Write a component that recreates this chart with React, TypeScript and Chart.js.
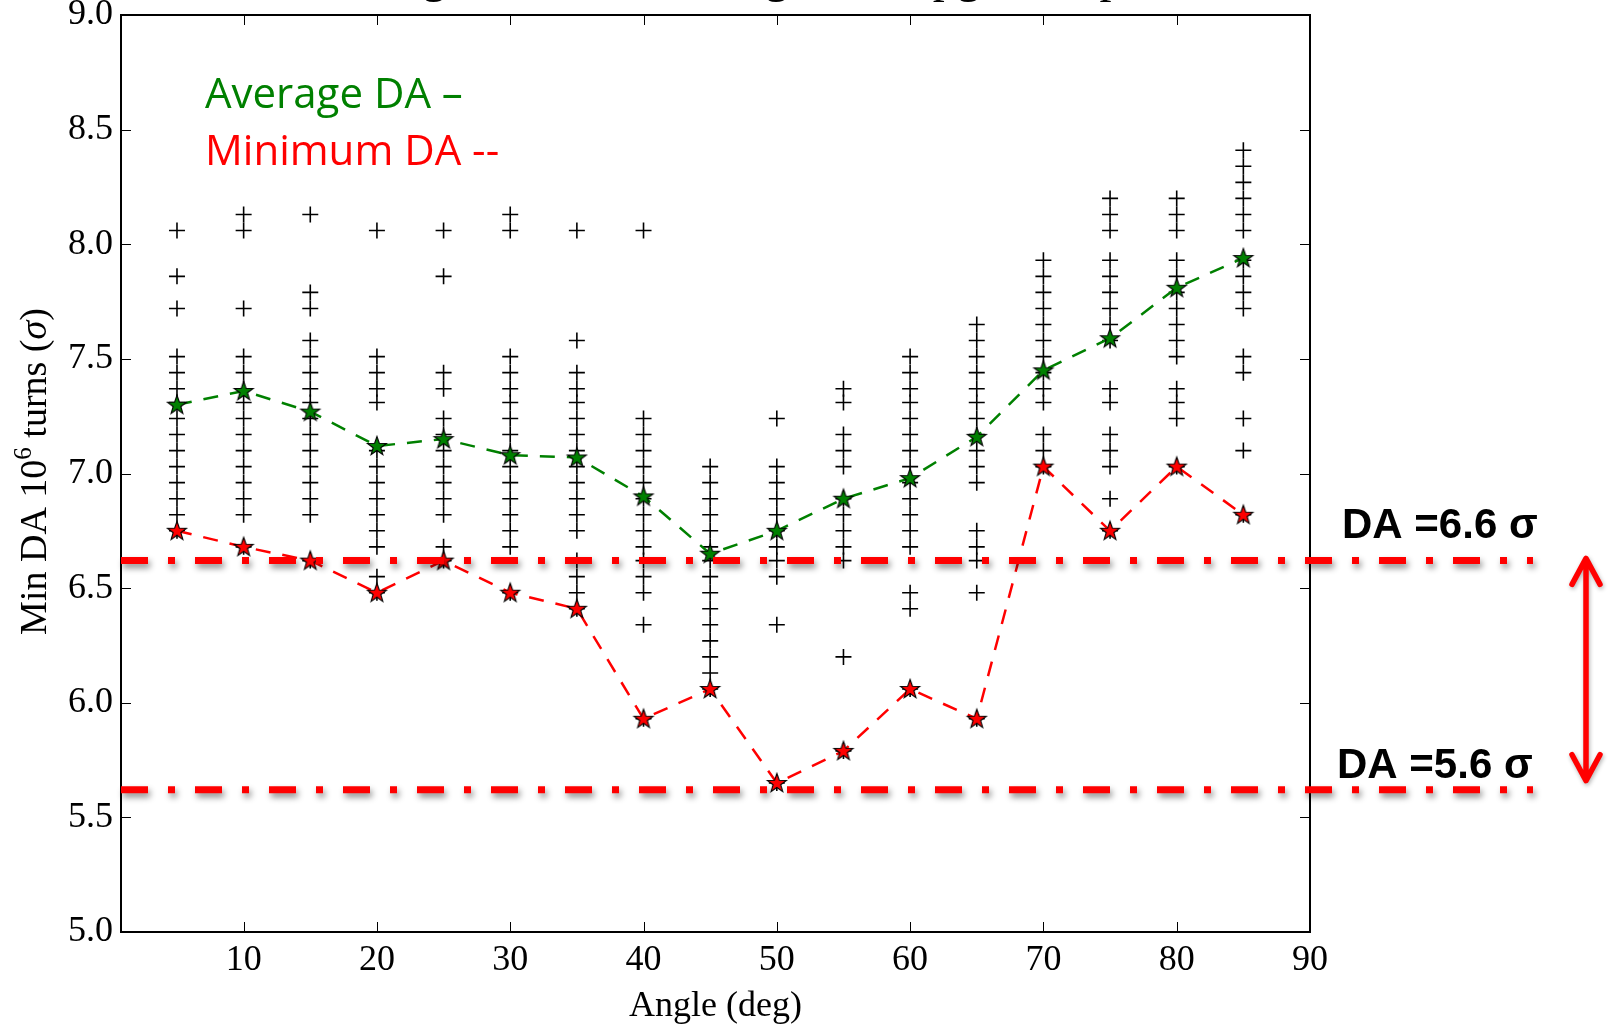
import React, { useEffect, useRef } from "react";
import { Chart, registerables } from "chart.js";

Chart.register(...registerables);

// ---------- data ----------
const angles = [5, 10, 15, 20, 25, 30, 35, 40, 45, 50, 55, 60, 65, 70, 75, 80, 85];
const averageDA = [7.3, 7.36, 7.27, 7.12, 7.15, 7.08, 7.07, 6.9, 6.65, 6.75, 6.89, 6.98, 7.16, 7.45, 7.59, 7.81, 7.94];
const minimumDA = [6.75, 6.68, 6.62, 6.48, 6.62, 6.48, 6.41, 5.93, 6.06, 5.65, 5.79, 6.06, 5.93, 7.03, 6.75, 7.03, 6.82];

const seeds05 = [8.06, 7.86, 7.72, 7.51, 7.44, 7.37, 7.31, 7.24, 7.17, 7.1, 7.03, 6.96, 6.89, 6.82, 6.75];
const seeds10 = [8.13, 8.06, 7.72, 7.51, 7.44, 7.37, 7.31, 7.24, 7.17, 7.1, 7.03, 6.96, 6.89, 6.82, 6.68];
const seeds15 = [8.13, 7.79, 7.72, 7.58, 7.51, 7.44, 7.37, 7.31, 7.24, 7.17, 7.1, 7.03, 6.96, 6.89, 6.82, 6.62];
const seeds20 = [8.06, 7.51, 7.44, 7.37, 7.31, 7.1, 7.03, 6.96, 6.89, 6.82, 6.75, 6.68, 6.55, 6.48];
const seeds25 = [8.06, 7.86, 7.44, 7.37, 7.24, 7.17, 7.1, 7.03, 6.96, 6.89, 6.82, 6.68, 6.62];
const seeds30 = [8.13, 8.06, 7.51, 7.44, 7.37, 7.31, 7.24, 7.17, 7.1, 7.03, 6.96, 6.89, 6.82, 6.75, 6.68, 6.48];
const seeds35 = [8.06, 7.58, 7.44, 7.37, 7.31, 7.24, 7.17, 7.1, 7.03, 6.96, 6.89, 6.82, 6.75, 6.62, 6.55, 6.48, 6.41];
const seeds40 = [8.06, 7.24, 7.17, 7.1, 7.03, 6.96, 6.89, 6.82, 6.75, 6.68, 6.62, 6.55, 6.48, 6.34, 5.93];
const seeds45 = [7.03, 6.96, 6.89, 6.82, 6.75, 6.68, 6.62, 6.55, 6.48, 6.41, 6.34, 6.27, 6.2, 6.13, 6.06];
const seeds50 = [7.24, 7.03, 6.96, 6.89, 6.82, 6.75, 6.68, 6.62, 6.55, 6.34, 5.65];
const seeds55 = [7.37, 7.31, 7.17, 7.1, 7.03, 6.89, 6.82, 6.75, 6.68, 6.62, 6.2, 5.79];
const seeds60 = [7.51, 7.44, 7.37, 7.31, 7.24, 7.17, 7.1, 7.03, 6.96, 6.89, 6.82, 6.75, 6.68, 6.48, 6.41, 6.06];
const seeds65 = [7.65, 7.58, 7.51, 7.44, 7.37, 7.31, 7.24, 7.17, 7.1, 7.03, 6.96, 6.75, 6.68, 6.62, 6.48, 5.93];
const seeds70 = [7.93, 7.86, 7.79, 7.72, 7.65, 7.58, 7.51, 7.44, 7.37, 7.31, 7.17, 7.1, 7.03];
const seeds75 = [8.2, 8.13, 8.06, 7.93, 7.86, 7.79, 7.72, 7.65, 7.58, 7.37, 7.31, 7.17, 7.1, 7.03, 6.89, 6.75];
const seeds80 = [8.2, 8.13, 8.06, 7.93, 7.86, 7.79, 7.72, 7.65, 7.58, 7.51, 7.37, 7.31, 7.24, 7.03];
const seeds85 = [8.41, 8.34, 8.27, 8.2, 8.13, 8.06, 7.93, 7.86, 7.79, 7.72, 7.51, 7.44, 7.24, 7.1, 6.82];
const seedsByAngle = [seeds05, seeds10, seeds15, seeds20, seeds25, seeds30, seeds35, seeds40, seeds45,
  seeds50, seeds55, seeds60, seeds65, seeds70, seeds75, seeds80, seeds85];

const thresholdDA = [6.62, 5.62];
const thresholdLabels = ["DA =6.6 σ", "DA =5.6 σ"];
const arrowDA = [6.63, 5.66];

const xTicks = [10, 20, 30, 40, 50, 60, 70, 80, 90];
const yTicks = [5.0, 5.5, 6.0, 6.5, 7.0, 7.5, 8.0, 8.5, 9.0];
const xRange = [0.8, 90];
const yRange = [5, 9];

const legendTexts = ["Average DA –", "Minimum DA --"];
const xTitle = "Angle (deg)";
const yTitleParts = ["Min DA 10", "6", " turns (", "σ", ")"];
const topTitle = "DA vs angle, 60 seeds, integrated, upgrade optics";

// ---------- styling helpers ----------
const SERIF = '"Liberation Serif", "Times New Roman", serif';
const SANS = '"Open Sans", "Liberation Sans", sans-serif';
const GREEN = "#008000";
const RED = "#ff0000";

function makeStar(fill: string): HTMLCanvasElement {
  const c = document.createElement("canvas");
  c.width = 26;
  c.height = 26;
  const ctx = c.getContext("2d")!;
  ctx.beginPath();
  for (let i = 0; i < 10; i++) {
    const r = i % 2 === 0 ? 10 : 4;
    const a = -Math.PI / 2 + (i * Math.PI) / 5;
    const px = 13 + r * Math.cos(a);
    const py = 13.5 + r * Math.sin(a);
    if (i === 0) ctx.moveTo(px, py);
    else ctx.lineTo(px, py);
  }
  ctx.closePath();
  ctx.fillStyle = fill;
  ctx.fill();
  ctx.strokeStyle = "#000";
  ctx.lineWidth = 1.1;
  ctx.stroke();
  return c;
}

const decorations = {
  id: "decorations",
  afterDraw(chart: any) {
    const { ctx, chartArea: a, scales } = chart;
    const xs = scales.x;
    const ys = scales.y;
    ctx.save();

    // frame
    ctx.strokeStyle = "#000";
    ctx.lineWidth = 2;
    ctx.strokeRect(a.left, a.top, a.right - a.left, a.bottom - a.top);

    // inward ticks on all four sides
    ctx.lineWidth = 1;
    const tl = 10;
    ctx.beginPath();
    xTicks.forEach((v) => {
      const px = Math.round(xs.getPixelForValue(v)) + 0.5;
      ctx.moveTo(px, a.bottom);
      ctx.lineTo(px, a.bottom - tl);
      ctx.moveTo(px, a.top);
      ctx.lineTo(px, a.top + tl);
    });
    yTicks.forEach((v) => {
      const py = Math.round(ys.getPixelForValue(v)) + 0.5;
      ctx.moveTo(a.left, py);
      ctx.lineTo(a.left + tl, py);
      ctx.moveTo(a.right, py);
      ctx.lineTo(a.right - tl, py);
    });
    ctx.stroke();

    // clipped title at the very top (only descenders visible)
    ctx.fillStyle = "#000";
    ctx.font = `48px ${SERIF}`;
    ctx.textAlign = "center";
    ctx.textBaseline = "alphabetic";
    ctx.fillText(topTitle, (a.left + a.right) / 2, -8);

    // x-axis title
    ctx.font = `36px ${SERIF}`;
    ctx.fillText(xTitle, (a.left + a.right) / 2, 1016);

    // y-axis title (rotated, with superscript and italic sigma)
    ctx.save();
    ctx.translate(46, (a.top + a.bottom) / 2 - 2);
    ctx.rotate(-Math.PI / 2);
    ctx.textAlign = "left";
    const fonts = [`38px ${SERIF}`, `25px ${SERIF}`, `38px ${SERIF}`, `italic 38px ${SERIF}`, `38px ${SERIF}`];
    const raise = [0, -15, 0, 0, 0];
    let total = 0;
    const widths = yTitleParts.map((t, i) => {
      ctx.font = fonts[i];
      const w = ctx.measureText(t).width;
      total += w;
      return w;
    });
    let cx = -total / 2;
    yTitleParts.forEach((t, i) => {
      ctx.font = fonts[i];
      ctx.fillText(t, cx, raise[i]);
      cx += widths[i];
    });
    ctx.restore();

    // legend text
    ctx.textAlign = "left";
    ctx.font = `42px ${SANS}`;
    ctx.fillStyle = GREEN;
    ctx.fillText(legendTexts[0], 205, 108);
    ctx.fillStyle = RED;
    ctx.fillText(legendTexts[1], 205, 165);

    // threshold dash-dot lines with shadow
    ctx.save();
    ctx.strokeStyle = RED;
    ctx.lineWidth = 7;
    ctx.lineCap = "butt";
    ctx.setLineDash([27, 20, 7, 20]);
    ctx.shadowColor = "rgba(0,0,0,0.45)";
    ctx.shadowBlur = 6;
    ctx.shadowOffsetX = 2;
    ctx.shadowOffsetY = 4;
    thresholdDA.forEach((v) => {
      const py = ys.getPixelForValue(v);
      ctx.beginPath();
      ctx.moveTo(a.left, py);
      ctx.lineTo(a.right + 223, py);
      ctx.stroke();
    });
    ctx.restore();

    // threshold labels
    const labelDx = [32, 27];
    const labelDy = [-23, -12];
    ctx.fillStyle = "#000";
    ctx.font = `bold 42px "Liberation Sans", "Open Sans", sans-serif`;
    thresholdDA.forEach((v, i) => {
      const py = ys.getPixelForValue(v);
      ctx.fillText(thresholdLabels[i], a.right + labelDx[i], py + labelDy[i]);
    });

    // double-headed arrow
    ctx.save();
    ctx.strokeStyle = RED;
    ctx.lineWidth = 5.5;
    ctx.lineCap = "round";
    ctx.lineJoin = "round";
    ctx.shadowColor = "rgba(0,0,0,0.3)";
    ctx.shadowBlur = 4;
    ctx.shadowOffsetX = 1;
    ctx.shadowOffsetY = 2;
    const ax = a.right + 276;
    const yTop = ys.getPixelForValue(arrowDA[0]);
    const yBot = ys.getPixelForValue(arrowDA[1]);
    ctx.beginPath();
    ctx.moveTo(ax, yTop + 2);
    ctx.lineTo(ax, yBot - 2);
    ctx.moveTo(ax - 14, yTop + 26);
    ctx.lineTo(ax, yTop);
    ctx.lineTo(ax + 14, yTop + 26);
    ctx.moveTo(ax - 14, yBot - 26);
    ctx.lineTo(ax, yBot);
    ctx.lineTo(ax + 14, yBot - 26);
    ctx.stroke();
    ctx.restore();

    ctx.restore();
  },
};

export default function App() {
  const ref = useRef<HTMLCanvasElement>(null);

  useEffect(() => {
    const canvas = ref.current!;
    const greenStar = makeStar(GREEN);
    const redStar = makeStar(RED);

    const seedPoints: { x: number; y: number }[] = [];
    angles.forEach((ang, i) => seedsByAngle[i].forEach((v) => seedPoints.push({ x: ang, y: v })));

    const chart = new Chart(canvas, {
      type: "scatter",
      data: {
        datasets: [
          {
            label: "Average DA",
            data: angles.map((x, i) => ({ x, y: averageDA[i] })),
            showLine: true,
            borderColor: GREEN,
            borderWidth: 2.5,
            borderDash: [15, 12],
            pointStyle: greenStar as any,
            pointRadius: 9,
            pointHoverRadius: 9,
          },
          {
            label: "Minimum DA",
            data: angles.map((x, i) => ({ x, y: minimumDA[i] })),
            showLine: true,
            borderColor: RED,
            borderWidth: 2.5,
            borderDash: [15, 12],
            pointStyle: redStar as any,
            pointRadius: 9,
            pointHoverRadius: 9,
          },
          {
            label: "Seeds",
            data: seedPoints,
            showLine: false,
            pointStyle: "cross",
            pointRadius: 8,
            pointHoverRadius: 8,
            pointBorderColor: "#000",
            pointBorderWidth: 1.6,
            borderColor: "#000",
          },
        ],
      },
      options: {
        animation: false,
        responsive: false,
        devicePixelRatio: 1,
        events: [],
        layout: {
          autoPadding: false,
          padding: { left: 0, right: 298, top: 15, bottom: 0 },
        },
        plugins: {
          legend: { display: false },
          tooltip: { enabled: false },
          title: { display: false },
        },
        scales: {
          x: {
            type: "linear",
            min: xRange[0],
            max: xRange[1],
            grid: { display: false, drawTicks: false },
            border: { display: false },
            ticks: {
              color: "#000",
              font: { family: SERIF, size: 36 },
              padding: 7,
              maxRotation: 0,
              autoSkip: false,
              callback: (v: any) => String(v),
            },
            afterBuildTicks: (s: any) => {
              s.ticks = xTicks.map((v) => ({ value: v }));
            },
            afterFit: (s: any) => {
              s.height = 93;
              s.paddingLeft = 0;
              s.paddingRight = 0;
              s.paddingTop = 0;
              s.paddingBottom = 0;
            },
          },
          y: {
            type: "linear",
            min: yRange[0],
            max: yRange[1],
            grid: { display: false, drawTicks: false },
            border: { display: false },
            ticks: {
              color: "#000",
              font: { family: SERIF, size: 36 },
              padding: 8,
              autoSkip: false,
              callback: (v: any) => Number(v).toFixed(1),
            },
            afterBuildTicks: (s: any) => {
              s.ticks = yTicks.map((v) => ({ value: v }));
            },
            afterFit: (s: any) => {
              s.width = 121;
              s.paddingLeft = 0;
              s.paddingRight = 0;
              s.paddingTop = 0;
              s.paddingBottom = 0;
            },
          },
        },
      } as any,
      plugins: [decorations],
    });

    return () => chart.destroy();
  }, []);

  return (
    <canvas
      ref={ref}
      width={1608}
      height={1025}
      style={{ position: "fixed", left: 0, top: 0, display: "block", background: "#fff" }}
    />
  );
}
